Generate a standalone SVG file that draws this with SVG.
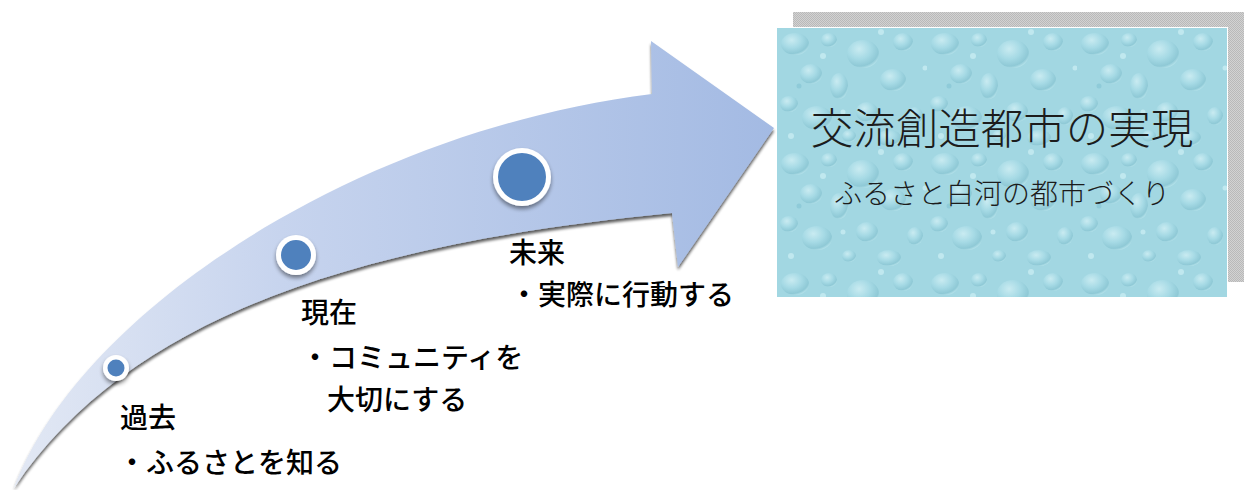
<svg xmlns="http://www.w3.org/2000/svg" width="1244" height="490" viewBox="0 0 1244 490">
<defs>
<style>
.lbl{font-family:"Noto Sans CJK JP","Noto Sans CJK SC",sans-serif;font-size:28px;font-weight:500;fill:#000;}
.ttl{font-family:"Noto Sans CJK JP","Noto Sans CJK SC",sans-serif;fill:#1c1c1c;text-anchor:middle;font-weight:300;}
.dotw{fill:#fff;}
.dotb{fill:#4f81bd;}
</style>
<linearGradient id="arrowGrad" x1="14" y1="0" x2="775" y2="0" gradientUnits="userSpaceOnUse">
<stop offset="0" stop-color="#e2e8f4"/>
<stop offset="0.35" stop-color="#c7d4ee"/>
<stop offset="1" stop-color="#a3bae3"/>
</linearGradient>
<filter id="arrowShadow" x="-5%" y="-5%" width="110%" height="115%">
<feGaussianBlur in="SourceAlpha" stdDeviation="1.4"/>
<feOffset dx="0" dy="3" result="b"/>
<feComponentTransfer><feFuncA type="linear" slope="0.65"/></feComponentTransfer>
<feMerge><feMergeNode/><feMergeNode in="SourceGraphic"/></feMerge>
</filter>
<filter id="dotShadow" x="-50%" y="-50%" width="200%" height="200%">
<feGaussianBlur in="SourceAlpha" stdDeviation="2"/>
<feOffset dx="0" dy="3" result="b"/>
<feComponentTransfer><feFuncA type="linear" slope="0.45"/></feComponentTransfer>
<feMerge><feMergeNode/><feMergeNode in="SourceGraphic"/></feMerge>
</filter>
<pattern id="checker" width="2" height="2" patternUnits="userSpaceOnUse">
<rect width="2" height="2" fill="#d2d2d2"/>
<rect width="1" height="1" fill="#b9b9b9"/>
<rect x="1" y="1" width="1" height="1" fill="#b9b9b9"/>
</pattern>
<radialGradient id="drop" cx="0.38" cy="0.32" r="0.72">
<stop offset="0" stop-color="#c9ebf1"/>
<stop offset="0.5" stop-color="#a6dae5"/>
<stop offset="0.85" stop-color="#8fc9d6"/>
<stop offset="1" stop-color="#b6e3eb"/>
</radialGradient>
<pattern id="water" width="150" height="120" patternUnits="userSpaceOnUse" x="777" y="28">
<rect width="150" height="120" fill="#a2d7e2"/>
<ellipse cx="18" cy="16" rx="14" ry="11" fill="url(#drop)"/>
<ellipse cx="52" cy="12" rx="8" ry="7" fill="url(#drop)"/>
<ellipse cx="86" cy="26" rx="16" ry="14" fill="url(#drop)"/>
<ellipse cx="126" cy="14" rx="10" ry="9" fill="url(#drop)"/>
<ellipse cx="34" cy="46" rx="11" ry="10" fill="url(#drop)"/>
<ellipse cx="62" cy="58" rx="9" ry="13" fill="url(#drop)"/>
<ellipse cx="116" cy="52" rx="13" ry="11" fill="url(#drop)"/>
<ellipse cx="12" cy="76" rx="9" ry="8" fill="url(#drop)"/>
<ellipse cx="40" cy="90" rx="15" ry="12" fill="url(#drop)"/>
<ellipse cx="90" cy="84" rx="11" ry="10" fill="url(#drop)"/>
<ellipse cx="138" cy="88" rx="8" ry="9" fill="url(#drop)"/>
<ellipse cx="72" cy="108" rx="7" ry="6" fill="url(#drop)"/>
<ellipse cx="112" cy="110" rx="12" ry="8" fill="url(#drop)"/>
<circle cx="46" cy="28" r="3" fill="#c0e8ef"/>
<circle cx="148" cy="40" r="2.5" fill="#c0e8ef"/>
<circle cx="22" cy="58" r="2.5" fill="#8fcbd9"/>
<circle cx="104" cy="4" r="3" fill="#c0e8ef"/>
<circle cx="66" cy="84" r="2.5" fill="#c0e8ef"/>
<circle cx="14" cy="108" r="3" fill="#c0e8ef"/>
</pattern>
</defs>
<rect width="1244" height="490" fill="#fff"/>

<g id="arrow" filter="url(#arrowShadow)">
<path d="M14 488 C80 310 360 130 652 94 L651 41 L774 128 L678 267 L672 213 C400 240 140 300 14 488 Z" fill="url(#arrowGrad)"/>
</g>

<g id="node-past">
<g filter="url(#dotShadow)"><circle class="dotw" cx="116" cy="368" r="13"/></g>
<circle class="dotb" cx="116" cy="368" r="8.5"/>
<text class="lbl" x="120" y="428">過去</text>
<text class="lbl" x="118" y="473">・ふるさとを知る</text>
</g>

<g id="node-present">
<g filter="url(#dotShadow)"><circle class="dotw" cx="296" cy="255" r="20"/></g>
<circle class="dotb" cx="296" cy="255" r="15"/>
<text class="lbl" x="301" y="323">現在</text>
<text class="lbl" x="301" y="368">・コミュニティを</text>
<text class="lbl" x="327" y="410">大切にする</text>
</g>

<g id="node-future">
<g filter="url(#dotShadow)"><circle class="dotw" cx="522" cy="177" r="29"/></g>
<circle class="dotb" cx="522" cy="177" r="24"/>
<text class="lbl" x="509" y="263">未来</text>
<text class="lbl" x="510" y="305">・実際に行動する</text>
</g>

<g id="title-box">
<rect x="793" y="12" width="451" height="270" fill="url(#checker)"/>
<rect x="776" y="27" width="452" height="271" fill="#fff"/>
<rect x="777" y="28" width="450" height="269" fill="url(#water)"/>
<text class="ttl" x="1002" y="144" font-size="42.5">交流創造都市の実現</text>
<text class="ttl" x="1002" y="204" font-size="28">ふるさと白河の都市づくり</text>
</g>
</svg>
